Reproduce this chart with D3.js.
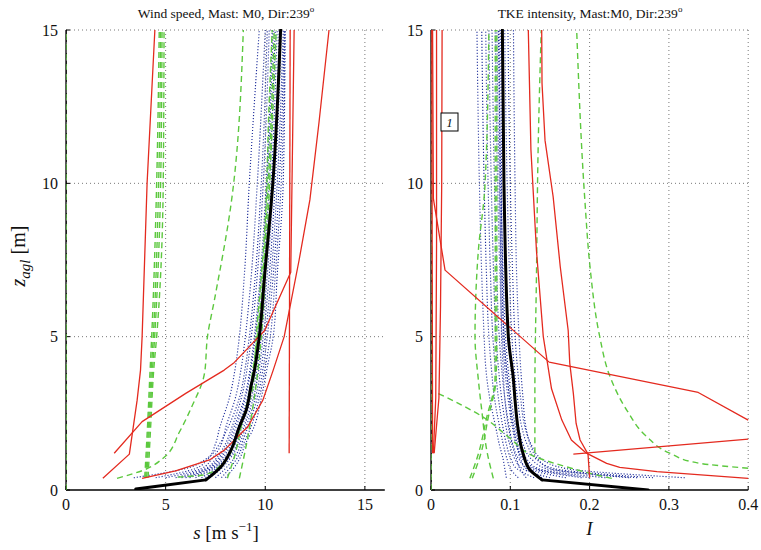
<!DOCTYPE html>
<html><head><meta charset="utf-8">
<script src="https://cdn.jsdelivr.net/npm/d3@7/dist/d3.min.js"></script>
<style>body{margin:0;background:#fff}svg text{font-family:"Liberation Serif","Times New Roman",Times,serif;fill:#111}</style>
</head><body><svg id="c" width="761" height="550" font-family="Liberation Serif, Times New Roman, serif"></svg>
<script>
// ---------- DATA ----------
const leftTitle = "Wind speed, Mast: M0, Dir:239";
const rightTitle = "TKE intensity, Mast:M0, Dir:239";
const leftXTicks = [0, 5, 10, 15];
const rightXTicks = [0, 0.1, 0.2, 0.3, 0.4];
const yTicks = [0, 5, 10, 15];

// black thick (mean) profiles
const blackLeftZ = [0.03, 0.33, 0.76, 1.3, 2.06, 2.6, 3.4, 3.91, 5, 7, 10, 15];
const blackLeftS = [3.5, 7.02, 7.78, 8.28, 8.7, 9.04, 9.29, 9.46, 9.7, 9.97, 10.38, 10.77];
const blackRightZ = [0, 0.33, 0.65, 1.2, 1.96, 2.93, 3.6, 5, 10, 15];
const blackRightI = [0.274, 0.14, 0.125, 0.116, 0.110, 0.106, 0.104, 0.0975, 0.092, 0.090];

// blue dotted ensemble
const zBlue = [0.4, 0.7, 1, 1.5, 2, 3, 4, 5, 7, 10, 15];
const blueLeftS = [
  [4.5, 6.5, 7.1, 7.5, 7.7, 8.2, 8.5, 8.7, 8.95, 9.2, 9.7],
  [5.0, 6.8, 7.3, 7.8, 8.0, 8.5, 8.8, 9.0, 9.3, 9.6, 10.0],
  [5.5, 7.0, 7.5, 8.0, 8.3, 8.8, 9.1, 9.3, 9.6, 9.9, 10.2],
  [6.0, 7.2, 7.7, 8.2, 8.5, 9.0, 9.3, 9.5, 9.8, 10.1, 10.4],
  [6.5, 7.4, 7.9, 8.4, 8.7, 9.2, 9.5, 9.7, 10.0, 10.3, 10.6],
  [7.0, 7.6, 8.1, 8.6, 8.9, 9.4, 9.7, 9.9, 10.2, 10.5, 10.8],
  [7.5, 8.0, 8.4, 8.8, 9.1, 9.6, 9.9, 10.1, 10.4, 10.7, 10.95],
  [8.0, 8.4, 8.7, 9.0, 9.4, 9.8, 10.1, 10.4, 10.6, 10.9, 11.0],
  [6.2, 7.3, 7.8, 8.3, 8.6, 9.1, 9.4, 9.6, 9.9, 10.2, 10.5],
  [6.8, 7.5, 8.0, 8.5, 8.8, 9.3, 9.6, 9.8, 10.1, 10.4, 10.7],
  [3.4, 6.0, 7.0, 7.7, 8.1, 8.7, 9.0, 9.2, 9.5, 9.8, 10.1],
  [7.2, 7.8, 8.2, 8.7, 9.0, 9.5, 9.8, 10.0, 10.3, 10.6, 10.9],
  [5.8, 7.1, 7.6, 8.1, 8.4, 8.95, 9.25, 9.45, 9.75, 10.05, 10.35],
  [7.8, 8.2, 8.55, 8.9, 9.25, 9.7, 10.0, 10.25, 10.5, 10.8, 10.98]
];
const blueRightI = [
  [0.095, 0.093, 0.091, 0.086, 0.082, 0.074, 0.069, 0.067, 0.064, 0.061, 0.058],
  [0.110, 0.100, 0.096, 0.091, 0.087, 0.080, 0.076, 0.073, 0.070, 0.067, 0.064],
  [0.130, 0.108, 0.101, 0.095, 0.091, 0.085, 0.081, 0.078, 0.075, 0.072, 0.069],
  [0.150, 0.115, 0.106, 0.099, 0.095, 0.089, 0.085, 0.082, 0.079, 0.076, 0.073],
  [0.170, 0.122, 0.111, 0.103, 0.099, 0.093, 0.089, 0.086, 0.083, 0.080, 0.077],
  [0.190, 0.128, 0.116, 0.107, 0.103, 0.097, 0.093, 0.090, 0.087, 0.084, 0.081],
  [0.220, 0.135, 0.121, 0.111, 0.107, 0.101, 0.097, 0.094, 0.091, 0.088, 0.085],
  [0.250, 0.145, 0.127, 0.116, 0.111, 0.105, 0.101, 0.098, 0.095, 0.092, 0.089],
  [0.280, 0.155, 0.133, 0.121, 0.115, 0.109, 0.105, 0.102, 0.099, 0.096, 0.093],
  [0.320, 0.170, 0.140, 0.126, 0.119, 0.113, 0.109, 0.106, 0.103, 0.100, 0.097],
  [0.120, 0.112, 0.108, 0.102, 0.098, 0.093, 0.091, 0.089, 0.088, 0.087, 0.086],
  [0.140, 0.120, 0.113, 0.108, 0.104, 0.099, 0.095, 0.092, 0.090, 0.089, 0.088],
  [0.260, 0.150, 0.135, 0.125, 0.120, 0.116, 0.113, 0.111, 0.108, 0.106, 0.104],
  [0.200, 0.132, 0.118, 0.109, 0.105, 0.099, 0.095, 0.092, 0.089, 0.086, 0.083]
];

// green dashed profiles
const greenLeftZ = [
  [0, 15],
  [0.4, 1.2, 2.2, 3.9, 5, 10, 15],
  [0.4, 1.2, 2.2, 3.9, 5, 10, 15],
  [0.4, 1.2, 2.2, 3.9, 5, 10, 15],
  [0.4, 1.2, 2.2, 3.9, 5, 10, 15],
  [0.38, 0.65, 1.05, 1.9, 2.7, 3.8, 5, 6.2, 9.4, 15],
  [0.38, 1.2, 2.28, 3.37, 5, 8.4, 12.7, 15],
  [0.38, 1.74, 3.9, 5, 8.4, 15],
  [0.42, 0.5, 0.9, 1.6, 2.6, 4, 6, 10, 15]
];
const greenLeftS = [
  [0, 0],
  [3.95, 4.02, 4.1, 4.22, 4.3, 4.55, 4.68],
  [4.0, 4.07, 4.15, 4.28, 4.38, 4.65, 4.75],
  [4.05, 4.12, 4.2, 4.34, 4.45, 4.75, 4.82],
  [4.12, 4.18, 4.26, 4.4, 4.55, 4.88, 4.92],
  [2.56, 3.9, 4.9, 5.7, 6.3, 6.95, 7.1, 7.45, 8.3, 8.9],
  [8.1, 8.5, 8.87, 9.38, 9.55, 9.97, 10.2, 10.35],
  [8.7, 9.13, 9.63, 9.8, 10.1, 10.55],
  [5.6, 7.0, 7.9, 8.5, 9.0, 9.4, 9.75, 10.15, 10.45]
];
const greenRightZ = [
  [0, 15],
  [0.71, 0.87, 1.2, 1.74, 2.6, 3.7, 5.1, 7.28, 9.46, 15],
  [1.2, 3.26, 7, 11, 15],
  [0.38, 0.43, 0.71, 1.09, 1.69, 2.34, 3.15],
  [0.38, 1.2, 2.34, 3.6, 5, 10, 15],
  [0.38, 1.2, 2.34, 3.6, 5, 10, 15],
  [0.38, 1.2, 2.6, 3.6, 5, 7.8, 9.9, 15]
];
const greenRightI = [
  [0, 0],
  [0.4, 0.339, 0.301, 0.272, 0.247, 0.2257, 0.212, 0.2005, 0.194, 0.1837],
  [0.131, 0.131, 0.133, 0.135, 0.139],
  [0.228, 0.219, 0.177, 0.131, 0.0996, 0.068, 0.009],
  [0.049, 0.060, 0.070, 0.0807, 0.081, 0.081, 0.081],
  [0.052, 0.063, 0.072, 0.082, 0.083, 0.083, 0.083],
  [0.0786, 0.071, 0.064, 0.0597, 0.0555, 0.0597, 0.068, 0.073]
];

// red solid profiles
const redLeftZ = [
  [0.38, 1.17, 2.93, 3.91, 5, 10, 15],
  [1.2, 2.23, 3.15, 3.91, 4.16, 5.2, 7.1, 15],
  [1.2, 15],
  [0.38, 0.62, 0.98, 1.3, 2.06, 2.93, 3.91, 5, 6.2, 7.5, 9.46, 12, 15]
];
const redLeftS = [
  [1.85, 3.18, 3.57, 3.74, 3.82, 4.07, 4.46],
  [2.42, 3.82, 6.01, 7.94, 8.45, 9.97, 11.28, 11.45],
  [11.2, 11.25],
  [3.82, 5.5, 7.2, 7.95, 9.12, 9.88, 10.4, 10.95, 11.31, 11.7, 12.24, 12.7, 13.2]
];
const redRightZ = [
  [15, 9.5, 7.17, 4.17, 3.18, 2.28],
  [1.2, 15],
  [1.2, 3.0, 8, 15],
  [1.2, 3.0, 6, 10, 15],
  [15, 11.1, 7.8, 5, 3.3, 2.28, 1.63, 1.2, 0.87, 0.74, 0.6, 0.38],
  [15, 13.26, 11.4, 9.57, 7.28, 5.2, 4.13, 3.15, 2.17, 1.63, 1.17, 0.4],
  [1.17, 1.66]
];
const redRightI = [
  [0.002, 0.003, 0.0177, 0.149, 0.337, 0.4],
  [0.002, 0.001],
  [0.003, 0.006, 0.007, 0.007],
  [0.004, 0.010, 0.012, 0.0135, 0.014],
  [0.1227, 0.126, 0.133, 0.1416, 0.152, 0.165, 0.177, 0.196, 0.2215, 0.238, 0.285, 0.4],
  [0.1396, 0.14, 0.1438, 0.154, 0.163, 0.173, 0.175, 0.1795, 0.183, 0.188, 0.198, 0.2],
  [0.1795, 0.4]
];

// ---------- DRAW ----------
const svg = d3.select("#c");
const yTop = 30, yBot = 490;
const y = d3.scaleLinear().domain([0, 15]).range([yBot, yTop]);
const xL = d3.scaleLinear().domain([0, 16]).range([66, 384.8]);
const xR = d3.scaleLinear().domain([0, 0.4]).range([431, 748.2]);

const RED = "#e42a1f", GREEN = "#5cc83e", BLUE = "#1c2c9a";
const FONT = "Liberation Serif, Times New Roman, serif";

function zip(zs, vs) { return zs.map((z, i) => ({ z: z, v: vs[i] })); }

function panel(id, x, xTicks, tickFmt) {
  const [x0, x1] = x.range();
  const g = svg.append("g");
  svg.append("clipPath").attr("id", id).append("rect")
    .attr("x", x0).attr("y", yTop - 1).attr("width", x1 - x0 + 1).attr("height", yBot - yTop + 1);
  const grid = g.append("g").attr("stroke", "#555").attr("stroke-width", 0.8)
    .attr("stroke-dasharray", "1,3");
  xTicks.filter(t => t > 0).forEach(t => grid.append("line")
    .attr("x1", x(t)).attr("x2", x(t)).attr("y1", yTop).attr("y2", yBot));
  yTicks.filter(t => t > 0).forEach(t => grid.append("line")
    .attr("x1", x0).attr("x2", x1).attr("y1", y(t)).attr("y2", y(t)));
  g.append("line").attr("x1", x0).attr("x2", x0).attr("y1", yTop).attr("y2", yBot).attr("stroke", "#000").attr("stroke-width", 1.3);
  g.append("line").attr("x1", x0).attr("x2", x1).attr("y1", yBot).attr("y2", yBot).attr("stroke", "#000").attr("stroke-width", 1.3);
  xTicks.forEach(t => {
    g.append("line").attr("x1", x(t)).attr("x2", x(t)).attr("y1", yBot).attr("y2", yBot - 4).attr("stroke", "#000");
    g.append("text").attr("x", x(t)).attr("y", yBot + 20).attr("text-anchor", "middle")
      .attr("font-family", FONT).attr("font-size", 16).text(tickFmt(t));
  });
  yTicks.forEach(t => {
    g.append("line").attr("x1", x0).attr("x2", x0 + 4).attr("y1", y(t)).attr("y2", y(t)).attr("stroke", "#000");
    g.append("text").attr("x", x0 - 8).attr("y", y(t) + 5.5).attr("text-anchor", "end")
      .attr("font-family", FONT).attr("font-size", 16).text(t);
  });
  return g.append("g").attr("clip-path", `url(#${id})`);
}

const lineGen = (x, curve) => d3.line().x(d => x(d.v)).y(d => y(d.z)).curve(curve || d3.curveLinear);

function drawSeries(plot, x, zsArr, vsArr, style) {
  zsArr.forEach((zs, i) => {
    const pts = zip(zs, vsArr[i]);
    const p = plot.append("path").datum(pts).attr("d", lineGen(x, style.curve))
      .attr("fill", "none").attr("stroke", style.color).attr("stroke-width", style.w)
      .attr("stroke-linejoin", "round");
    if (style.dash) p.attr("stroke-dasharray", style.dash);
    if (style.op) p.attr("stroke-opacity", style.op);
  });
}

function drawBlack(plot, x, zs, vs) {
  const pts = zip(zs, vs);
  [pts.slice(0, 2), pts.slice(1)].forEach((seg, k) => {
    plot.append("path").datum(seg)
      .attr("d", lineGen(x, k === 0 ? d3.curveLinear : d3.curveMonotoneY))
      .attr("fill", "none").attr("stroke", "#000").attr("stroke-width", 3)
      .attr("stroke-linecap", "round");
  });
}

function fillPanel(plot, x, blueVals, greenZ, greenV, redZ, redV, blackZ, blackV) {
  plot.append("path").datum(zip([0, 15], [0, 0])).attr("d", lineGen(x))
    .attr("stroke", "#000").attr("stroke-width", 1.3).attr("stroke-dasharray", "5,3").attr("fill", "none");
  drawSeries(plot, x, blueVals.map(() => zBlue), blueVals, { color: BLUE, w: 1.15, dash: "1.1,1.9", op: 1, curve: d3.curveMonotoneY });
  drawSeries(plot, x, greenZ, greenV, { color: GREEN, w: 1.4, dash: "6,4", curve: d3.curveMonotoneY });
  drawSeries(plot, x, redZ, redV, { color: RED, w: 1.3 });
  drawBlack(plot, x, blackZ, blackV);
}

const pL = panel("clipL", xL, leftXTicks, d => d);
fillPanel(pL, xL, blueLeftS, greenLeftZ, greenLeftS, redLeftZ, redLeftS, blackLeftZ, blackLeftS);
const pR = panel("clipR", xR, rightXTicks, d => d);
fillPanel(pR, xR, blueRightI, greenRightZ, greenRightI, redRightZ, redRightI, blackRightZ, blackRightI);

function title(cx, txt) {
  const t = svg.append("text").attr("x", cx).attr("y", 18).attr("text-anchor", "middle")
    .attr("font-family", FONT).attr("font-size", 13.5);
  t.append("tspan").text(txt);
  t.append("tspan").attr("dy", -6).attr("font-size", 9).text("o");
}
title(226, leftTitle);
title(590, rightTitle);

const xl = svg.append("text").attr("x", 226).attr("y", 539).attr("text-anchor", "middle")
  .attr("font-family", FONT).attr("font-size", 19);
xl.append("tspan").attr("font-style", "italic").text("s");
xl.append("tspan").text(" [m s");
xl.append("tspan").attr("dy", -8).attr("font-size", 13).text("−1");
xl.append("tspan").attr("dy", 8).text("]");
svg.append("text").attr("x", 589.5).attr("y", 535).attr("text-anchor", "middle").attr("font-size", 19)
  .attr("font-family", FONT).attr("font-style", "italic").text("I");

const yl = svg.append("text").attr("transform", "translate(25,256) rotate(-90)").attr("text-anchor", "middle")
  .attr("font-family", FONT).attr("font-size", 20);
yl.append("tspan").attr("font-style", "italic").text("z");
yl.append("tspan").attr("font-style", "italic").attr("dy", 5).attr("font-size", 15).text("agl");
yl.append("tspan").attr("dy", -5).text(" [m]");

svg.append("rect").attr("x", 441).attr("y", 113).attr("width", 17).attr("height", 18)
  .attr("fill", "#fff").attr("stroke", "#000").attr("stroke-width", 1);
svg.append("text").attr("x", 449.5).attr("y", 127).attr("text-anchor", "middle").attr("font-size", 13)
  .attr("font-family", FONT).attr("font-style", "italic").text("1");
</script></body></html>
